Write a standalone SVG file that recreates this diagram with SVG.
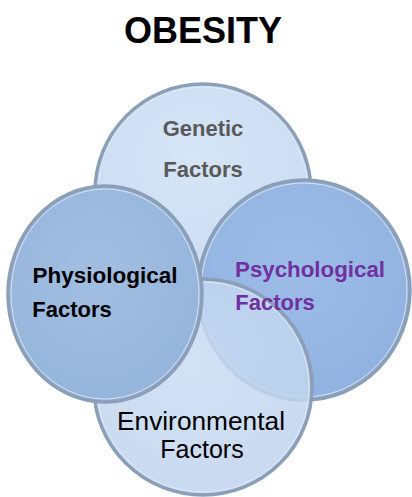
<svg xmlns="http://www.w3.org/2000/svg" width="412" height="497" viewBox="0 0 412 497">
<style>
.ring{stroke:#8c9fb8;stroke-width:3.5}
.inner{fill:none;stroke:#e4ecf6;stroke-width:1;opacity:0.8}
.b{font-family:"Liberation Sans",Arial,sans-serif;font-weight:bold;text-anchor:middle}
.n{font-family:"Liberation Sans",Arial,sans-serif;text-anchor:middle}
</style>
<defs>
<radialGradient id="gGen" cx="0.45" cy="0.35" r="0.7"><stop offset="0" stop-color="#d6e5f7"/><stop offset="1" stop-color="#c9dcf2"/></radialGradient>
<radialGradient id="gPhy" cx="0.45" cy="0.4" r="0.7"><stop offset="0" stop-color="#a2bfe2"/><stop offset="1" stop-color="#94b3da"/></radialGradient>
<radialGradient id="gPsy" cx="0.45" cy="0.4" r="0.7"><stop offset="0" stop-color="#9dbde8"/><stop offset="1" stop-color="#8fb0de"/></radialGradient>
<radialGradient id="gEnv" cx="0.45" cy="0.4" r="0.7"><stop offset="0" stop-color="#cbdcf2"/><stop offset="1" stop-color="#bed3ee"/></radialGradient>
</defs>
<rect width="412" height="497" fill="#ffffff"/>
<text class="b" x="203" y="43" font-size="36" fill="#000000" textLength="158" lengthAdjust="spacingAndGlyphs">OBESITY</text>
<g id="genetic">
<ellipse class="ring" cx="203" cy="192" rx="108" ry="108" fill="url(#gGen)"/>
<ellipse class="inner" cx="203" cy="192" rx="105" ry="105"/>
<text class="b" x="203" y="136" font-size="22" fill="#595959">Genetic</text>
<text class="b" x="203" y="177" font-size="22" fill="#595959">Factors</text>
</g>
<g id="psychological">
<ellipse class="ring" cx="304" cy="290" rx="106" ry="110" fill="url(#gPsy)"/>
<ellipse class="inner" cx="304" cy="290" rx="103" ry="107"/>
</g>
<g id="environmental">
<ellipse class="ring" cx="203" cy="387" rx="109" ry="108" fill="url(#gEnv)" fill-opacity="0.85"/>
<ellipse class="inner" cx="203" cy="387" rx="106" ry="105"/>
<text class="n" x="201" y="430" font-size="25" fill="#000000" textLength="168" lengthAdjust="spacingAndGlyphs">Environmental</text>
<text class="n" x="202" y="458" font-size="25" fill="#000000">Factors</text>
</g>
<g id="psychological-label">
<text class="b" x="310" y="277" font-size="22" fill="#7030a0" textLength="150" lengthAdjust="spacingAndGlyphs">Psychological</text>
<text class="b" x="275" y="310" font-size="22" fill="#7030a0">Factors</text>
</g>
<g id="physiological">
<ellipse class="ring" cx="105" cy="294" rx="97" ry="108" fill="url(#gPhy)"/>
<ellipse class="inner" cx="105" cy="294" rx="94" ry="105"/>
<text class="b" x="105" y="283" font-size="22" fill="#000000" textLength="145" lengthAdjust="spacingAndGlyphs">Physiological</text>
<text class="b" x="72" y="317" font-size="22" fill="#000000">Factors</text>
</g>
<g id="connectors"/>
</svg>
